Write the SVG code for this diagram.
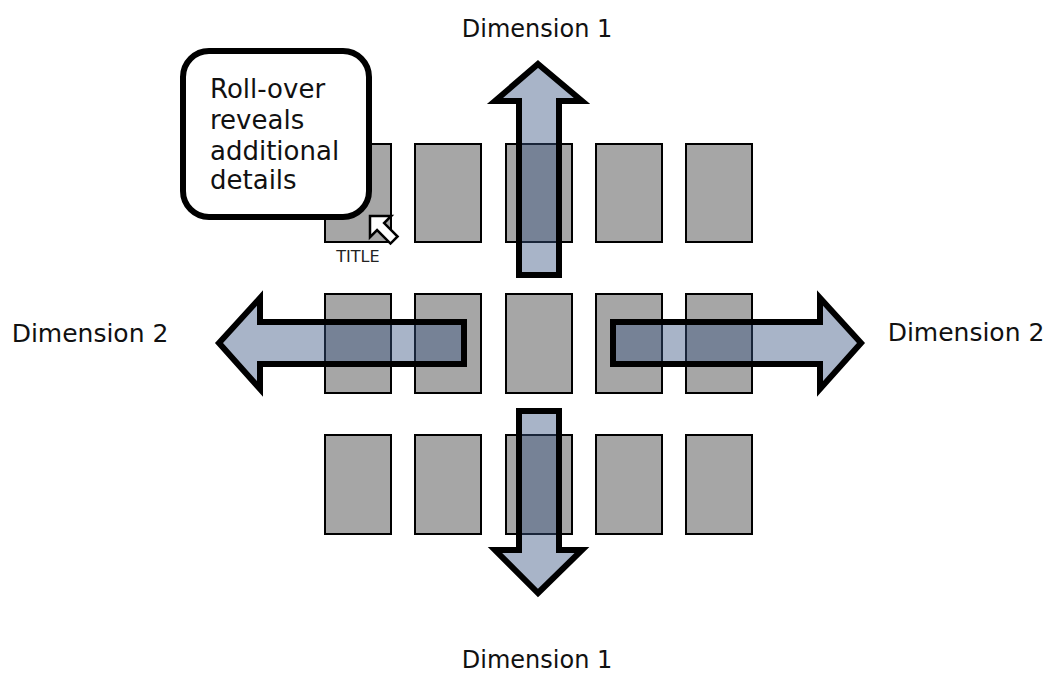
<svg xmlns="http://www.w3.org/2000/svg" width="1048" height="679" viewBox="0 0 1048 679">
<style>
.tile{fill:#a6a6a6;stroke:#000;stroke-width:2}
.arrow{fill:rgb(57,84,130);fill-opacity:0.44;stroke:#000;stroke-width:6;stroke-linejoin:miter}
.lbl{font-family:"DejaVu Sans",sans-serif;font-size:24px;fill:#111}
.lbl2{font-family:"DejaVu Sans",sans-serif;font-size:25px;fill:#111}
.call{font-family:"DejaVu Sans",sans-serif;font-size:26px;fill:#111}
</style>
<rect width="1048" height="679" fill="#fff"/>
<g id="tiles">
<rect id="t11" class="tile" x="325" y="144" width="66" height="98"/>
<rect id="t12" class="tile" x="415" y="144" width="66" height="98"/>
<rect id="t13" class="tile" x="506" y="144" width="66" height="98"/>
<rect id="t14" class="tile" x="596" y="144" width="66" height="98"/>
<rect id="t15" class="tile" x="686" y="144" width="66" height="98"/>
<rect id="t21" class="tile" x="325" y="294" width="66" height="99"/>
<rect id="t22" class="tile" x="415" y="294" width="66" height="99"/>
<rect id="t23" class="tile" x="506" y="294" width="66" height="99"/>
<rect id="t24" class="tile" x="596" y="294" width="66" height="99"/>
<rect id="t25" class="tile" x="686" y="294" width="66" height="99"/>
<rect id="t31" class="tile" x="325" y="435" width="66" height="99"/>
<rect id="t32" class="tile" x="415" y="435" width="66" height="99"/>
<rect id="t33" class="tile" x="506" y="435" width="66" height="99"/>
<rect id="t34" class="tile" x="596" y="435" width="66" height="99"/>
<rect id="t35" class="tile" x="686" y="435" width="66" height="99"/>
</g>
<g id="connectors">
<polygon id="arrow-up" class="arrow" points="538,64 582,101 559,101 559,275 519,275 519,101 495,101"/>
<polygon id="arrow-down" class="arrow" points="538,593 582,550 559,550 559,411 519,411 519,550 495,550"/>
<polygon id="arrow-left" class="arrow" points="219,343 260,298 260,322 464,322 464,364 260,364 260,389"/>
<polygon id="arrow-right" class="arrow" points="861,343 820,298 820,322 613,322 613,364 820,364 820,389"/>
</g>
<g id="callout">
<rect x="183" y="51" width="186" height="166" rx="26" ry="26" fill="#fff" stroke="#000" stroke-width="6"/>
<text class="call" x="210" y="98">Roll-over</text>
<text class="call" x="210" y="129">reveals</text>
<text class="call" x="210" y="160">additional</text>
<text class="call" x="210" y="189">details</text>
</g>
<g id="cursor">
<polygon transform="translate(370,216) rotate(-45)" points="0,0 15,15 5,15 5,34 -5,34 -5,15 -15,15" fill="#fff" stroke="#000" stroke-width="2.5" stroke-linejoin="miter"/>
</g>
<g id="title-label">
<text x="358" y="262" text-anchor="middle" font-family="DejaVu Sans, sans-serif" font-size="16" fill="#222">TITLE</text>
</g>
<g id="labels">
<text class="lbl" x="537" y="37" text-anchor="middle">Dimension 1</text>
<text class="lbl" x="537" y="668" text-anchor="middle">Dimension 1</text>
<text class="lbl2" x="90" y="342" text-anchor="middle">Dimension 2</text>
<text class="lbl2" x="966" y="341" text-anchor="middle">Dimension 2</text>
</g>
</svg>
